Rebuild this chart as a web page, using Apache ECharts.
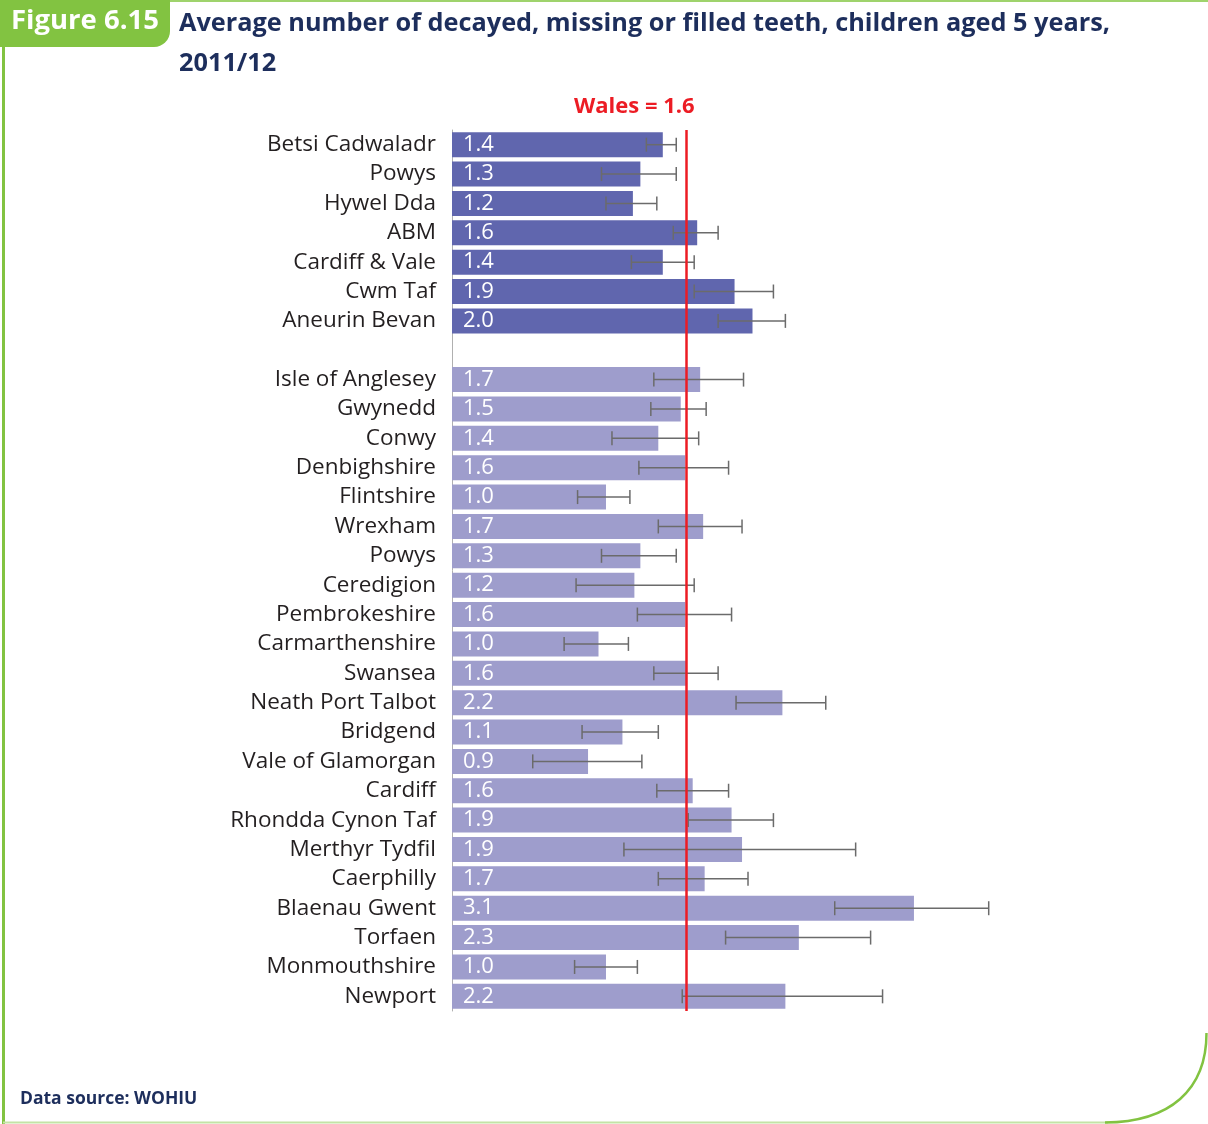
<!DOCTYPE html>
<html>
<head>
<meta charset="utf-8">
<script src="https://cdn.jsdelivr.net/npm/echarts@6/dist/echarts.min.js"></script>
<style>
html,body{margin:0;padding:0;background:#fff;}
#chart{width:1208px;height:1124px;}
</style>
</head>
<body>
<div id="chart"></div>
<script>
// ---- Data ----
const categories = [
  'Betsi Cadwaladr','Powys','Hywel Dda','ABM','Cardiff & Vale','Cwm Taf','Aneurin Bevan',
  '',
  'Isle of Anglesey','Gwynedd','Conwy','Denbighshire','Flintshire','Wrexham','Powys','Ceredigion',
  'Pembrokeshire','Carmarthenshire','Swansea','Neath Port Talbot','Bridgend','Vale of Glamorgan',
  'Cardiff','Rhondda Cynon Taf','Merthyr Tydfil','Caerphilly','Blaenau Gwent','Torfaen',
  'Monmouthshire','Newport'
];
// health board values (first 7 rows)
const boardValues = [1.41, 1.26, 1.21, 1.64, 1.41, 1.89, 2.01];
// local authority values (rows after the gap)
const laValues = [1.66, 1.53, 1.38, 1.56, 1.03, 1.68, 1.26, 1.22, 1.56, 0.98, 1.57, 2.21,
  1.14, 0.91, 1.61, 1.87, 1.94, 1.69, 3.09, 2.32, 1.03, 2.23];
// 95% confidence intervals
const boardLow  = [1.30, 1.00, 1.03, 1.48, 1.20, 1.62, 1.78];
const boardHigh = [1.50, 1.50, 1.37, 1.78, 1.62, 2.15, 2.23];
const laLow  = [1.35, 1.33, 1.07, 1.25, 0.84, 1.38, 1.00, 0.83, 1.24, 0.75, 1.35, 1.90,
  0.87, 0.54, 1.37, 1.58, 1.15, 1.38, 2.56, 1.83, 0.82, 1.54];
const laHigh = [1.95, 1.70, 1.65, 1.85, 1.19, 1.94, 1.50, 1.62, 1.87, 1.18, 1.78, 2.50,
  1.38, 1.27, 1.85, 2.15, 2.70, 1.98, 3.59, 2.80, 1.24, 2.88];
const walesValue = 1.57;
const walesLabel = 'Wales = 1.6';

// ---- Build series data ----
const nB = boardValues.length;
const boardData = categories.map((c, i) => i < nB ? boardValues[i] : '-');
const laData = categories.map((c, i) => i > nB ? laValues[i - nB - 1] : '-');
const errData = [];
boardValues.forEach((v, i) => errData.push([i, boardLow[i], boardHigh[i]]));
laValues.forEach((v, i) => errData.push([i + nB + 1, laLow[i], laHigh[i]]));

const FONT = '"Open Sans", "Noto Sans", sans-serif';
const labelCfg = {
  show: true, position: 'insideLeft', distance: 11, color: '#fff',
  fontSize: 22, fontFamily: FONT,
  formatter: p => Number(p.value).toFixed(1)
};

const chart = echarts.init(document.getElementById('chart'), null, {renderer: 'canvas'});
chart.setOption({
  animation: false,
  backgroundColor: '#fff',
  title: [
    {text: 'Figure 6.15', left: 6, top: 2,
      textStyle: {color: '#fff', fontSize: 27.5, fontWeight: 'bold', fontFamily: FONT}},
    {text: 'Average number of decayed, missing or filled teeth, children aged 5 years,\n2011/12',
      left: 174, top: -1,
      textStyle: {color: '#1d2e5c', fontSize: 25.3, fontWeight: 'bold', fontFamily: FONT, lineHeight: 40}},
    {text: walesLabel, left: 569, top: 91,
      textStyle: {color: '#ec1c24', fontSize: 22, fontWeight: 'bold', fontFamily: FONT}},
    {text: 'Data source: WOHIU', left: 15, top: 1085,
      textStyle: {color: '#1d2e5c', fontSize: 17.5, fontWeight: 'bold', fontFamily: FONT}}
  ],
  graphic: [
    {type: 'rect', z: -1, shape: {x: 0, y: 0, width: 170, height: 47, r: [0, 0, 16, 0]},
      style: {fill: '#82c341'}},
    {type: 'line', shape: {x1: 170, y1: 1, x2: 1208, y2: 1}, style: {stroke: '#9fd36c', lineWidth: 2}},
    {type: 'line', shape: {x1: 3.5, y1: 40, x2: 3.5, y2: 1124}, style: {stroke: '#82c341', lineWidth: 3}},
    {type: 'line', shape: {x1: 3, y1: 1122.5, x2: 1108, y2: 1122.5}, style: {stroke: '#c4e3a6', lineWidth: 2}},
    {type: 'bezierCurve',
      shape: {x1: 1206.5, y1: 1033, cpx1: 1206.5, cpy1: 1090, cpx2: 1170, cpy2: 1122, x2: 1105, y2: 1122.5},
      style: {stroke: '#82c341', lineWidth: 2.5, fill: null}}
  ],
  grid: {left: 452, top: 130, width: 598, height: 881, containLabel: false},
  xAxis: {type: 'value', min: 0, max: 4, show: false},
  yAxis: {
    type: 'category', data: categories, inverse: true,
    axisLine: {show: true, lineStyle: {color: '#b0b0b0', width: 1}},
    axisTick: {show: false},
    axisLabel: {color: '#231f20', fontSize: 22.5, fontFamily: FONT, margin: 16, interval: 0, hideOverlap: false}
  },
  series: [
    {type: 'bar', data: boardData, barWidth: 25, barGap: '-100%',
      itemStyle: {color: '#6066ae'}, label: labelCfg, z: 2},
    {type: 'bar', data: laData, barWidth: 25,
      itemStyle: {color: '#9e9dcc'}, label: labelCfg, z: 2,
      markLine: {
        symbol: 'none', silent: true, label: {show: false},
        lineStyle: {color: '#ec1c24', width: 2.5, type: 'solid'},
        data: [{xAxis: walesValue}], z: 5
      }},
    {type: 'custom', data: errData, z: 4,
      encode: {x: [1, 2], y: 0},
      renderItem: function (params, api) {
        const idx = api.value(0);
        const p1 = api.coord([api.value(1), idx]);
        const p2 = api.coord([api.value(2), idx]);
        const h = 7;
        const st = {stroke: '#6b6b6b', lineWidth: 1.5};
        return {type: 'group', children: [
          {type: 'line', shape: {x1: p1[0], y1: p1[1], x2: p2[0], y2: p2[1]}, style: st},
          {type: 'line', shape: {x1: p1[0], y1: p1[1] - h, x2: p1[0], y2: p1[1] + h}, style: st},
          {type: 'line', shape: {x1: p2[0], y1: p2[1] - h, x2: p2[0], y2: p2[1] + h}, style: st}
        ]};
      }}
  ]
});
</script>
</body>
</html>
